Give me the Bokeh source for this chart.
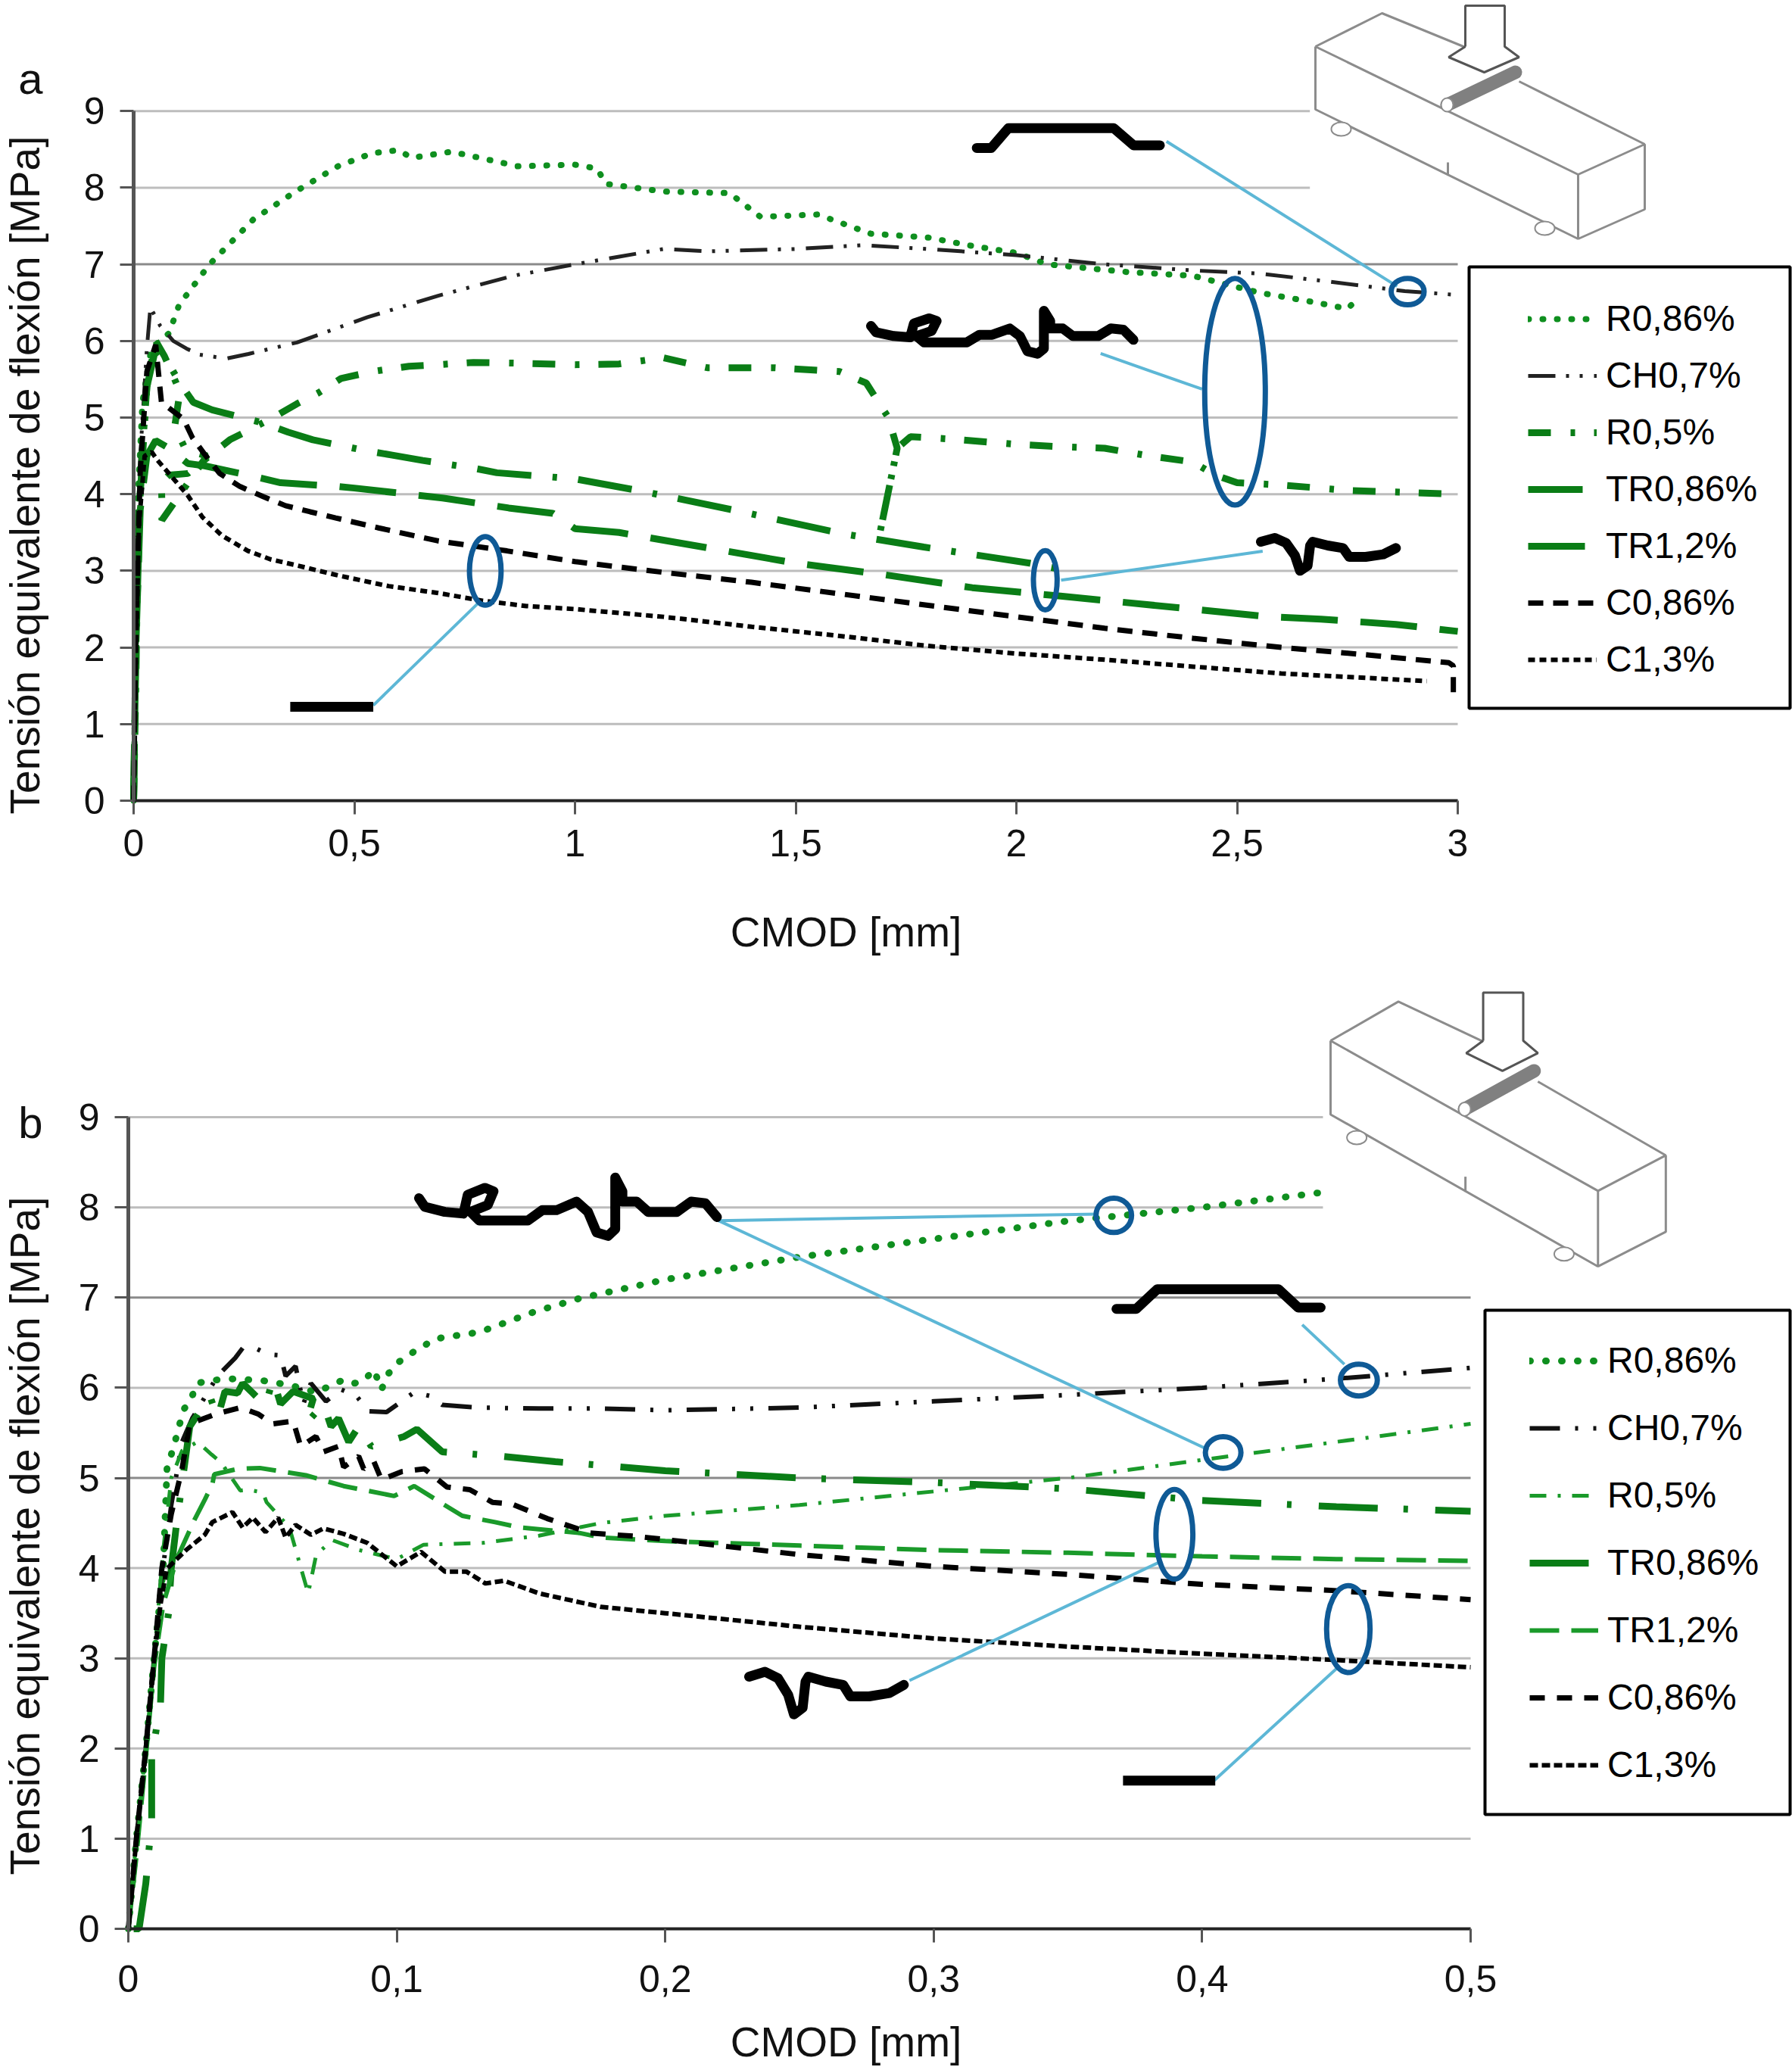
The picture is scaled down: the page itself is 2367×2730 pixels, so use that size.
from bokeh.plotting import figure
from bokeh.layouts import column
from bokeh.models import Range1d, FixedTicker, Legend, LegendItem, Label
from bokeh.embed import file_html
from bokeh.resources import INLINE

FONT = "Liberation Sans"
K = 2367 / 1360  # shrunk-picture pixels -> page pixels, decoration only

SERIES_NAMES = ["R0,86%", "CH0,7%", "R0,5%", "TR0,86%", "TR1,2%", "C0,86%", "C1,3%"]
Y_TICKS = [0, 1, 2, 3, 4, 5, 6, 7, 8, 9]

# ---------- chart a ----------
A_X_TICKS = [0, 0.5, 1, 1.5, 2, 2.5, 3]
A_X_LABELS = ["0", "0,5", "1", "1,5", "2", "2,5", "3"]

a_r086_x = [0,.005,.01,.02,.04,.08,.103,.172,.272,.367,.463,.54,.60,.63,.72,.80,.87,1.0,1.05,1.07,1.2,1.35,1.42,1.55,1.67,1.8,1.9,2.0,2.07,2.25,2.4,2.55,2.68,2.75,2.77]
a_r086_y = [0,2,4,5.2,5.9,6.1,6.47,7.0,7.59,7.95,8.28,8.45,8.49,8.39,8.47,8.37,8.28,8.3,8.25,8.05,7.95,7.93,7.62,7.65,7.4,7.35,7.24,7.15,7.0,6.9,6.85,6.63,6.5,6.42,6.53]
a_ch_x = [0,.005,.015,.03,.038,.06,.09,.12,.15,.21,.26,.37,.53,.69,.86,1.0,1.1,1.2,1.3,1.5,1.65,1.8,2.0,2.2,2.4,2.55,2.7,2.88,3.0]
a_ch_y = [0,2.5,4.5,5.9,6.44,6.2,6.0,5.9,5.82,5.77,5.83,5.98,6.31,6.59,6.85,7.0,7.1,7.2,7.17,7.2,7.25,7.2,7.12,7.0,6.92,6.88,6.78,6.65,6.6]
a_r05_x = [0,.005,.01,.02,.03,.05,.07,.105,.093,.118,.166,.064,.064,.063,.08,.123,.15,.218,.269,.319,.37,.418,.47,.54,.624,.69,.77,.87,1.0,1.1,1.2,1.3,1.45,1.6,1.66,1.71,1.73,1.69,1.73,1.76,1.85,2.0,2.1,2.2,2.3,2.4,2.45,2.5,2.6,2.75,3.0]
a_r05_y = [0,1.5,3.5,4.6,5.4,6.0,5.8,5.34,4.88,4.58,4.5,3.66,3.9,4.15,4.25,4.27,4.4,4.71,4.86,5.01,5.18,5.32,5.51,5.6,5.67,5.69,5.72,5.71,5.69,5.7,5.78,5.65,5.65,5.6,5.45,5.0,4.6,3.47,4.6,4.75,4.72,4.65,4.62,4.6,4.5,4.42,4.25,4.15,4.12,4.05,4.0]
a_tr086_x = [0,.005,.015,.03,.05,.08,.105,.135,.178,.293,.35,.406,.524,.586,.655,.77,.823,.89,1.0,1.16,1.37,1.61,1.79,2.03,2.1]
a_tr086_y = [0,2,4,5.4,5.9,5.7,5.45,5.2,5.1,4.93,4.81,4.71,4.57,4.51,4.44,4.34,4.28,4.25,4.2,4.03,3.78,3.48,3.31,3.1,3.02]
a_tr12_x = [0,.005,.015,.03,.05,.08,.123,.161,.281,.333,.465,.5,.7,.85,.95,1.0,1.1,1.3,1.5,1.7,1.9,2.1,2.4,2.57,2.69,2.86,3.0]
a_tr12_y = [0,2,3.8,4.5,4.7,4.6,4.4,4.37,4.22,4.15,4.1,4.08,3.95,3.82,3.75,3.55,3.5,3.3,3.1,2.95,2.78,2.67,2.5,2.4,2.37,2.3,2.21]
a_c086_x = [0,.005,.015,.03,.05,.063,.113,.133,.161,.195,.241,.293,.344,.40,.458,.555,.69,.846,1.0,1.2,1.4,1.6,1.8,2.0,2.2,2.4,2.6,2.8,2.98,2.99,2.99]
a_c086_y = [0,2.2,4.3,5.6,5.95,5.2,4.98,4.74,4.52,4.27,4.1,3.97,3.85,3.77,3.69,3.56,3.39,3.26,3.12,2.98,2.85,2.7,2.55,2.4,2.25,2.12,2.0,1.9,1.8,1.76,1.3]
a_c13_x = [0,.005,.012,.025,.041,.053,.098,.122,.156,.2,.259,.31,.37,.463,.578,.69,.79,.89,1.0,1.2,1.4,1.6,1.8,2.0,2.2,2.4,2.6,2.8,2.93]
a_c13_y = [0,1.8,3.6,4.5,4.55,4.45,4.15,3.99,3.7,3.46,3.26,3.15,3.07,2.94,2.8,2.71,2.61,2.54,2.5,2.4,2.27,2.15,2.02,1.92,1.84,1.75,1.66,1.6,1.56]

# ---------- chart b ----------
B_X_TICKS = [0, 0.1, 0.2, 0.3, 0.4, 0.5]
B_X_LABELS = ["0", "0,1", "0,2", "0,3", "0,4", "0,5"]

b_r086_x = [0,.003,.0065,.0096,.013,.0144,.0172,.0205,.0238,.0257,.0304,.0379,.05,.06,.07,.0802,.0844,.0877,.0915,.0943,.0967,.1,.1047,.1093,.1141,.1197,.1253,.131,.1366,.151,.168,.2,.25,.3,.35,.4,.443]
b_r086_y = [0,1,2,3,4,5.1,5.38,5.75,5.91,6.05,6.08,6.1,6.08,6.03,5.95,6.09,6.05,6.08,6.2,5.98,6.15,6.27,6.37,6.45,6.54,6.57,6.59,6.62,6.68,6.84,6.99,7.2,7.45,7.65,7.85,8.0,8.16]
b_ch_x = [0,.003,.0065,.0096,.012,.016,.02,.0238,.0332,.0398,.0426,.0473,.052,.0567,.0586,.0623,.0652,.068,.0736,.0793,.0849,.0896,.0962,.1065,.1122,.1169,.13,.153,.176,.2,.25,.3,.35,.4,.45,.5]
b_ch_y = [0,1,2,3,3.8,4.7,5.4,5.66,6.13,6.33,6.44,6.44,6.37,6.36,6.13,6.24,5.82,6.05,5.85,5.98,5.91,5.74,5.73,5.95,5.91,5.81,5.78,5.77,5.77,5.75,5.78,5.85,5.92,6.0,6.1,6.22]
b_r05_x = [0,.003,.0065,.0096,.013,.016,.02,.0257,.031,.0346,.0417,.0445,.0501,.0515,.06,.067,.07,.076,.086,.1,.11,.132,.153,.176,.2,.25,.3,.35,.4,.45,.5]
b_r05_y = [0,1,2,3,4.2,5,5.3,5.4,5.26,5.17,4.86,4.87,4.84,4.73,4.45,3.72,4.15,4.31,4.2,4.1,4.26,4.28,4.36,4.5,4.58,4.7,4.85,5.0,5.2,5.4,5.6]
b_tr086_x = [.002,.004,.0065,.0087,.0087,.012,.0125,.015,.016,.018,.0229,.0304,.0332,.036,.0407,.0426,.0464,.0511,.0539,.0567,.0614,.0689,.0661,.0727,.0755,.0783,.0821,.0858,.0905,.1028,.1075,.1169,.139,.159,.176,.2,.25,.3,.35,.4,.45,.5]
b_tr086_y = [0,0,.5,1.2,1.9,2.5,3,3.5,4,4.5,5.57,5.91,5.66,5.96,5.94,6.05,5.94,5.8,6.1,5.82,5.96,5.88,5.6,5.82,5.57,5.66,5.4,5.57,5.35,5.46,5.54,5.29,5.24,5.18,5.14,5.08,5.0,4.95,4.88,4.75,4.68,4.63]
b_tr12_x = [0,.003,.0065,.0096,.013,.018,.0247,.0285,.0313,.032,.0407,.049,.0661,.0802,.099,.1065,.1178,.1244,.1366,.146,.168,.176,.2,.25,.3,.35,.4,.45,.5]
b_tr12_y = [0,.8,1.9,2.9,3.6,4.1,4.54,4.76,4.93,5.04,5.1,5.11,5.03,4.91,4.8,4.91,4.7,4.58,4.51,4.45,4.39,4.34,4.3,4.25,4.2,4.17,4.13,4.1,4.08]
b_c086_x = [0,.003,.0065,.0096,.0125,.016,.02,.0229,.0327,.0417,.0483,.0539,.0614,.0642,.0699,.0727,.0783,.0802,.0858,.0877,.0915,.0943,.1018,.1103,.1187,.1272,.1356,.143,.156,.172,.19,.22,.25,.3,.35,.4,.45,.5]
b_c086_y = [0,1,2,3,4,4.6,5.1,5.6,5.71,5.78,5.71,5.6,5.63,5.35,5.46,5.29,5.35,5.12,5.24,5.1,5.18,4.98,5.07,5.1,4.9,4.87,4.73,4.71,4.55,4.39,4.35,4.25,4.15,4.02,3.93,3.82,3.75,3.65]
b_c13_x = [0,.003,.0065,.0096,.012,.0143,.0215,.0285,.0313,.0388,.0426,.0464,.0511,.0558,.0586,.0623,.068,.0727,.0802,.089,.1,.109,.118,.126,.133,.14,.153,.176,.2,.25,.3,.35,.4,.45,.5]
b_c13_y = [0,1,2,3,3.6,3.99,4.2,4.37,4.51,4.62,4.45,4.56,4.4,4.56,4.34,4.48,4.37,4.44,4.38,4.28,4.02,4.18,3.96,3.96,3.83,3.86,3.72,3.57,3.5,3.35,3.22,3.13,3.05,2.98,2.9]

DARK_GREEN = "#0a7d16"
MID_GREEN = "#1a9a2a"
A_STYLE = [
    dict(line_color="#0f8f1f", line_width=8, line_dash="1 18", line_cap="round"),
    dict(line_color="#222222", line_width=5, line_dash="36 14 4 14 4 15"),
    dict(line_color=DARK_GREEN, line_width=9, line_dash="30 26 6 25"),
    dict(line_color=DARK_GREEN, line_width=9, line_dash="72 28 6 28"),
    dict(line_color=DARK_GREEN, line_width=9, line_dash="75 30"),
    dict(line_color="black", line_width=7, line_dash="20 13"),
    dict(line_color="black", line_width=6, line_dash="9 6"),
]
B_STYLE = [
    dict(line_color="#0f8f1f", line_width=9, line_dash="1 20", line_cap="round"),
    dict(line_color="#111111", line_width=6, line_dash="40 20 4 20 4 20"),
    dict(line_color=MID_GREEN, line_width=5, line_dash="22 15 4 15"),
    dict(line_color=DARK_GREEN, line_width=9, line_dash="78 34 6 36"),
    dict(line_color=MID_GREEN, line_width=6, line_dash="39 16"),
    dict(line_color="black", line_width=7, line_dash="20 16"),
    dict(line_color="black", line_width=6, line_dash="11 5"),
]

BEAM_EDGES = [
    [(1737,61),(2084,230),(2084,315),(1737,144),(1737,61)],
    [(2084,230),(2172,190),(2172,276),(2084,315)],
    [(1737,61),(1825,17),(1935,62)],
    [(2006,107),(2172,190)],
    [(1912,214),(1912,231)],
]
BEAM_ARROW = [(1935,61),(1935,7),(1987,7),(1987,61),(2006,75),(1960,95),(1913,75),(1935,61)]


def build(seriesx, seriesy, styles, x_ticks, x_labels, frame_left, frame_bottom, top, fig_bottom,
          x_unit, y_unit, x_end, grid_short_end, legend_box, legend_bottom, row_gap, title_xy, letter,
          letter_xy, sample_x, dark_grid, x_standoff):
    left = 0
    right = 2367
    p = figure(width=right - left, height=fig_bottom - top, output_backend="svg", toolbar_location=None,
               x_range=Range1d((left - frame_left) / x_unit, (right - frame_left) / x_unit),
               y_range=Range1d((frame_bottom - fig_bottom) / y_unit, (frame_bottom - top) / y_unit),
               min_border_left=0, min_border_right=0, min_border_top=0, min_border_bottom=0,
               outline_line_color=None, background_fill_color="white", border_fill_color="white")
    p.extra_x_ranges["px"] = Range1d(left, right)
    p.extra_y_ranges["px"] = Range1d(fig_bottom, top)
    p.xgrid.visible = False
    p.ygrid.visible = False

    ends = [x_end if t < 8 else grid_short_end for t in Y_TICKS]
    colors = ["#8a8a8a" if t in dark_grid else "#bdbdbd" for t in Y_TICKS]
    p.segment(x0=[0] * len(Y_TICKS), y0=Y_TICKS, x1=ends, y1=Y_TICKS, line_color=colors, line_width=3, level="underlay")

    xa, ya = p.xaxis[0], p.yaxis[0]
    xa.fixed_location = 0
    ya.fixed_location = 0
    xa.ticker = FixedTicker(ticks=x_ticks)
    xa.major_label_overrides = dict(zip(x_ticks, x_labels))
    xa.bounds = (0, x_ticks[-1])
    ya.ticker = FixedTicker(ticks=Y_TICKS)
    ya.major_label_overrides = {t: str(t) for t in Y_TICKS}
    ya.bounds = (0, 9)
    for ax in (xa, ya):
        ax.minor_tick_line_color = None
        ax.major_tick_in = 0
        ax.major_tick_out = 18
        ax.major_tick_line_color = "#555555"
        ax.major_tick_line_width = 3
        ax.major_label_text_font = FONT
        ax.major_label_text_font_size = "50px"
        ax.major_label_text_color = "#111111"
        ax.major_label_standoff = 20
    xa.major_label_standoff = x_standoff
    xa.axis_line_color = "#222222"
    xa.axis_line_width = 4
    ya.axis_line_color = "#555555"
    ya.axis_line_width = 5

    items = []
    for name, xs, ys, st in zip(SERIES_NAMES, seriesx, seriesy, styles):
        r = p.line(xs, ys, **st)
        items.append(LegendItem(label=name, renderers=[r]))

    px = dict(x_range_name="px", y_range_name="px")
    l, r_, t_, b_ = legend_box
    p.quad(left=[l], right=[r_], top=[t_], bottom=[b_], fill_color="white", line_color="black", line_width=4, **px)
    leg = Legend(items=items, location=(sample_x - left, fig_bottom - legend_bottom),
                 orientation="vertical", padding=0, margin=0, spacing=int(round(row_gap - 54)),
                 glyph_width=91, glyph_height=50, label_height=50, label_standoff=12,
                 label_text_font=FONT, label_text_font_size="48px", label_text_color="black",
                 border_line_color=None, background_fill_alpha=0)
    p.add_layout(leg, "center")

    p.add_layout(Label(x=title_xy[0], y=title_xy[1], text="CMOD [mm]", text_font=FONT, text_font_size="55px",
                       text_align="center", text_baseline="middle", text_color="#111111", **px))
    p.add_layout(Label(x=32, y=title_xy[2], text="Tensión equivalente de flexión [MPa]",
                       text_font=FONT, text_font_size="55px", angle=90, angle_units="deg",
                       text_align="center", text_baseline="middle", text_color="#111111", **px))
    p.add_layout(Label(x=letter_xy[0], y=letter_xy[1], text=letter, text_font=FONT, text_font_size="58px",
                       text_align="center", text_baseline="middle", text_color="#111111", **px))
    return p, px


def sketch(p, px, ox, oy, sx, sy):
    def T(pts):
        return [ox + (q[0] - 1737) * sx for q in pts], [oy + (q[1] - 61) * sy for q in pts]
    for e in BEAM_EDGES:
        xs, ys = T(e)
        p.line(xs, ys, line_color="#8c8c8c", line_width=3, **px)
    xs, ys = T(BEAM_ARROW)
    p.line(xs, ys, line_color="#555555", line_width=3, **px)
    xs, ys = T([(1911, 138), (2001, 95)])
    p.line(xs, ys, line_color="#808080", line_width=18, line_cap="round", **px)
    xs2, ys2 = T([(1911, 138), (1771, 170), (2040, 301)])
    p.ellipse([xs2[0]], [ys2[0]], width=16, height=18, fill_color="white", line_color="#8c8c8c", line_width=2, **px)
    p.ellipse(xs2[1:], ys2[1:], width=26, height=18, fill_color="white", line_color="#8c8c8c", line_width=2, **px)


def deco(p, px, callouts, rings, strokes, bar):
    for (x0, y0, x1, y1) in callouts:
        p.line([x0 * K, x1 * K], [y0 * K, y1 * K], line_color="#5db7d6", line_width=4, **px)
    for (x, y, w, h) in rings:
        p.ellipse([x * K], [y * K], width=w * K, height=h * K, fill_color=None, line_color="#0f5a96", line_width=7, **px)
    for s in strokes:
        p.line([q[0] for q in s], [q[1] for q in s], line_color="black", line_width=13,
               line_cap="round", line_join="round", **px)
    p.line([bar[0] * K, bar[1] * K], [bar[2] * K, bar[2] * K], line_color="black", line_width=13, **px)


def scaled(pts):
    return [(x * K, y * K) for x, y in pts]


# handwriting strokes, as page pixels of chart a
SQUIGGLE = [(1130 + x / 3, 400 + y / 3) for x, y in [(60,90),(80,115),(150,130),(215,135),(230,80),(290,60),(320,70),(300,110),(240,130),(270,155),(350,155),(440,155),(490,125),(540,125),(610,100),(650,130),(680,190),(720,200),(745,180),(745,100),(745,30),(770,70),(770,100),(820,100),(860,130),(960,130),(1010,100),(1060,105),(1100,145)]]
WAVE = [(1640 + x / 3, 690 + y / 3) for x, y in [(75,75),(130,60),(175,80),(210,130),(230,190),(260,170),(270,90),(280,75),(340,90),(400,100),(425,135),(490,135),(560,125),(610,100)]]

pa, pxa = build(
    [a_r086_x, a_ch_x, a_r05_x, a_tr086_x, a_tr12_x, a_c086_x, a_c13_x],
    [a_r086_y, a_ch_y, a_r05_y, a_tr086_y, a_tr12_y, a_c086_y, a_c13_y],
    A_STYLE, A_X_TICKS, A_X_LABELS, frame_left=176, frame_bottom=1057, top=0, fig_bottom=1285,
    x_unit=583, y_unit=101.2, x_end=3, grid_short_end=2.665, legend_box=(1940, 2364, 352, 935),
    legend_bottom=898, row_gap=74.3, title_xy=(1117, 1230, 627), letter="a", letter_xy=(40, 103),
    sample_x=2018, dark_grid=[7], x_standoff=20)
sketch(pa, pxa, 1737, 61, 1, 1)
deco(pa, pxa,
     [(885,107,1060,217), (835,268,912,295), (805,440,958,418), (283,535,362,458)],
     [(1068,221,25,20), (937,297,46,172), (793,440,18,45), (368,433,24,52)],
     [scaled([(741,112),(752,112),(765,97),(845,97),(860,110),(880,110)]), SQUIGGLE, WAVE],
     (220, 283, 536))

pb, pxb = build(
    [b_r086_x, b_ch_x, b_r05_x, b_tr086_x, b_tr12_x, b_c086_x, b_c13_x],
    [b_r086_y, b_ch_y, b_r05_y, b_tr086_y, b_tr12_y, b_c086_y, b_c13_y],
    B_STYLE, B_X_TICKS, B_X_LABELS, frame_left=169, frame_bottom=2547, top=1285, fig_bottom=2730,
    x_unit=3546, y_unit=119.1, x_end=0.5, grid_short_end=0.445, legend_box=(1961, 2364, 1730, 2396),
    legend_bottom=2358, row_gap=88, title_xy=(1117, 2696, 2028), letter="b", letter_xy=(40, 1482),
    sample_x=2020, dark_grid=[5, 7], x_standoff=30)
sketch(pb, pxb, 1757, 1374, 1.018, 1.174)
deco(pb, pxb,
     [(545,926,833,921), (545,926,917,1100), (988,1005,1020,1035), (690,1275,880,1185), (920,1352,1015,1265)],
     [(845,922,27,26), (1031,1047,28,24), (928,1102,27,24), (891,1164,28,68), (1023,1236,33,66)],
     [scaled([(847,993),(862,993),(878,978),(970,978),(985,992),(1002,992)]),
      [(553 + (x - 1150) * 1.135, 1582 + (y - 430) * 1.36) for x, y in SQUIGGLE],
      [(989 + (x - 1665) * 1.146, 2214 + (y - 715) * 1.3) for x, y in WAVE]],
     (852, 922, 1351))

page = column(pa, pb, spacing=0)
open("out.html", "w").write(file_html(page, INLINE))
